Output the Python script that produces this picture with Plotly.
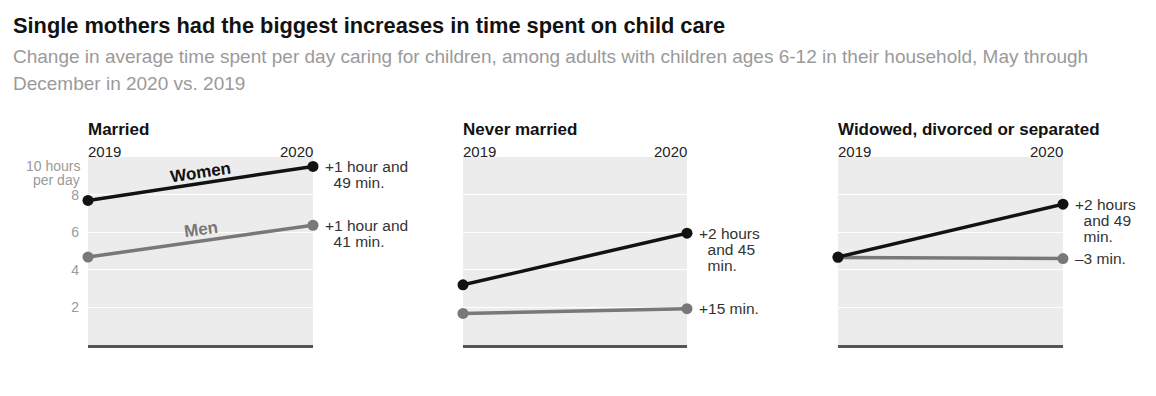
import math
import plotly.graph_objects as go

# ---- data ----
years = [2019, 2020]
panels = ["Married", "Never married", "Widowed, divorced or separated"]
women = [[7.69, 9.50], [3.20, 5.95], [4.68, 7.49]]
men = [[4.68, 6.37], [1.68, 1.93], [4.65, 4.60]]
women_change = [["+1 hour and", "\u00a0\u00a049 min."],
                ["+2 hours", "\u00a0\u00a0and 45", "\u00a0\u00a0min."],
                ["+2 hours", "\u00a0\u00a0and 49", "\u00a0\u00a0min."]]
men_change = [["+1 hour and", "\u00a0\u00a041 min."],
              ["+15 min."],
              ["\u20133 min."]]
y_tickvals = [2, 4, 6, 8]
y_ticktext = ["2", "4", "6", "8"]

# ---- layout geometry ----
W, H = 1156, 396
OFF = 8   # page body margin
PAD = 2   # annotation inner padding
px_domains = [(88, 313), (463, 687), (838, 1063)]
plot_top, plot_bot = 157, 345
YMAX = 10
FONT = "Liberation Sans, Arial, sans-serif"
BLACK = "#121212"
GRAY = "#787878"

def px_x(px):
    return (px - OFF) / W

def px_y(py):
    return 1 - (py - OFF) / H

fig = go.Figure()
annotations = []

for i, name in enumerate(panels):
    ax = "" if i == 0 else str(i + 1)
    xa, ya = "x" + ax, "y" + ax
    for vals, col in ((men[i], GRAY), (women[i], BLACK)):
        fig.add_trace(go.Scatter(
            x=years, y=vals, xaxis=xa, yaxis=ya, mode="lines+markers",
            line=dict(color=col, width=3.5),
            marker=dict(color=col, size=11),
            cliponaxis=False, showlegend=False, hoverinfo="skip"))
    d0, d1 = px_domains[i]
    fig.update_layout(**{
        "xaxis" + ax: dict(domain=[px_x(d0), px_x(d1)], range=[2019, 2020],
                           showgrid=False, zeroline=False, showticklabels=False,
                           showline=True, linecolor="#555555", linewidth=2.5,
                           anchor=ya, fixedrange=True),
        "yaxis" + ax: dict(domain=[px_y(plot_bot), px_y(plot_top)], range=[0, YMAX],
                           tickvals=y_tickvals, ticktext=y_ticktext,
                           showticklabels=(i == 0), gridcolor="#ffffff", gridwidth=1.2,
                           zeroline=False, showline=False, anchor=xa,
                           ticklabelstandoff=8,
                           tickfont=dict(family=FONT, size=14, color="#9a9a9a"),
                           fixedrange=True),
    })
    # panel title
    annotations.append(dict(text="<b>%s</b>" % name, xref="paper", yref="paper",
                            x=px_x(d0 - PAD), y=px_y(129), xanchor="left", yanchor="middle",
                            showarrow=False, font=dict(family=FONT, size=17, color=BLACK)))
    # year labels
    annotations.append(dict(text=str(years[0]), xref="paper", yref="paper",
                            x=px_x(d0 - PAD), y=px_y(151), xanchor="left", yanchor="middle",
                            showarrow=False, font=dict(family=FONT, size=15, color="#222222")))
    annotations.append(dict(text=str(years[1]), xref="paper", yref="paper",
                            x=px_x(d1 + PAD), y=px_y(151), xanchor="right", yanchor="middle",
                            showarrow=False, font=dict(family=FONT, size=15, color="#222222")))
    # change labels
    for vals, lines in ((women[i], women_change[i]), (men[i], men_change[i])):
        for k, line in enumerate(lines):
            annotations.append(dict(text=line, xref=xa, yref=ya, x=years[1], y=vals[1],
                                    xanchor="left", yanchor="middle", xshift=10,
                                    yshift=-16 * k, showarrow=False,
                                    font=dict(family=FONT, size=15.5, color="#333333")))

# series labels on first panel
ppu = (plot_bot - plot_top) / YMAX
pw = px_domains[0][1] - px_domains[0][0]
for vals, label, col, shift in ((women[0], "Women", BLACK, 11), (men[0], "Men", GRAY, 12)):
    ang = math.degrees(math.atan((vals[1] - vals[0]) * ppu / pw))
    annotations.append(dict(text="<b>%s</b>" % label, xref="x", yref="y",
                            x=(years[0] + years[1]) / 2, y=(vals[0] + vals[1]) / 2,
                            yshift=shift, textangle=-ang, showarrow=False,
                            font=dict(family=FONT, size=17, color=col)))

# y unit label
annotations.append(dict(text="10 hours", xref="paper", yref="paper", x=px_x(80 + PAD), y=px_y(166),
                        xanchor="right", yanchor="middle", showarrow=False,
                        font=dict(family=FONT, size=14, color="#9a9a9a")))
annotations.append(dict(text="per day", xref="paper", yref="paper", x=px_x(80 + PAD), y=px_y(180),
                        xanchor="right", yanchor="middle", showarrow=False,
                        font=dict(family=FONT, size=14, color="#9a9a9a")))

# title & subtitle
annotations.append(dict(text="<b>Single mothers had the biggest increases in time spent on child care</b>",
                        xref="paper", yref="paper", x=px_x(13 - PAD), y=px_y(25),
                        xanchor="left", yanchor="middle", showarrow=False,
                        font=dict(family=FONT, size=21.8, color=BLACK)))
annotations.append(dict(text="Change in average time spent per day caring for children, among adults with children ages 6-12 in their household, May through",
                        xref="paper", yref="paper", x=px_x(13 - PAD), y=px_y(57),
                        xanchor="left", yanchor="middle", showarrow=False,
                        font=dict(family=FONT, size=19.0, color="#9a9a9a")))
annotations.append(dict(text="December in 2020 vs. 2019",
                        xref="paper", yref="paper", x=px_x(13 - PAD), y=px_y(83),
                        xanchor="left", yanchor="middle", showarrow=False,
                        font=dict(family=FONT, size=19.0, color="#9a9a9a")))

fig.update_layout(width=W, height=H, margin=dict(l=0, r=0, t=0, b=0),
                  paper_bgcolor="#ffffff", plot_bgcolor="#ececec",
                  annotations=annotations, showlegend=False)

fig.write_html("out.html", config={"displayModeBar": False})
